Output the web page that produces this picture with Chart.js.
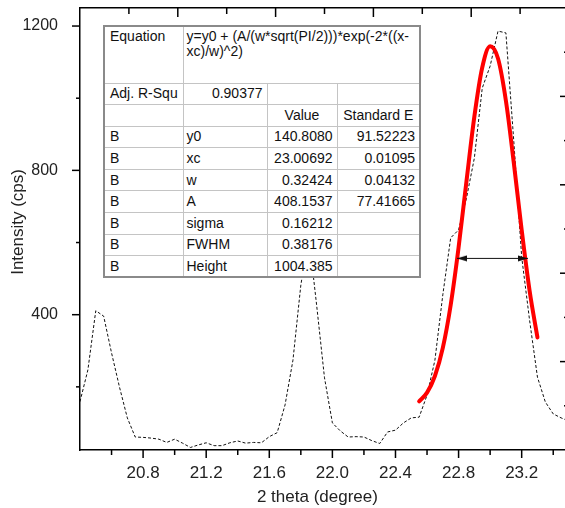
<!DOCTYPE html>
<html>
<head>
<meta charset="utf-8">
<script src="https://cdn.jsdelivr.net/npm/chart.js@4.4.1/dist/chart.umd.min.js"></script>
<style>
html,body{margin:0;padding:0;background:#fff;overflow:hidden;width:565px;height:508px;}
#wrap{position:absolute;left:0;top:0;width:575px;height:508px;}
#fit{position:absolute;left:103px;top:25px;width:316px;border-collapse:collapse;table-layout:fixed;background:#fff;
  font:14px "Liberation Sans",Arial,sans-serif;color:#111;border:2px solid #8a8a8a;z-index:2;}
#fit td{border:1px solid #c4c4c4;padding:0 4px;white-space:nowrap;overflow:hidden;vertical-align:middle;line-height:15px;}
#fit tr{height:21.6px;}
#fit tr.eq{height:57px;}
#fit tr.eq td{vertical-align:top;padding-top:2px;}
#fit td.num{text-align:right;}
#fit td.hd{text-align:center;}
#fit td.c1{padding-left:5px;}
#fit td.c2{padding-left:3px;}
</style>
</head>
<body>
<div id="wrap"><canvas id="c"></canvas></div>
<table id="fit"><colgroup><col style="width:79px"><col style="width:84px"><col style="width:70px"><col style="width:83px"></colgroup><tbody id="tb"></tbody></table>
<script>
// ---- data ----
const dashX = [20.40,20.45,20.50,20.55,20.60,20.65,20.70,20.75,20.80,20.85,20.90,20.95,21.00,21.05,21.10,21.15,
  21.20,21.25,21.30,21.35,21.40,21.45,21.50,21.55,21.60,21.65,21.70,21.75,21.80,21.85,21.90,21.95,
  22.00,22.05,22.10,22.15,22.20,22.25,22.30,22.35,22.40,22.45,22.50,22.55,22.60,22.65,22.70,22.75,
  22.80,22.85,22.90,22.95,23.00,23.05,23.10,23.15,23.20,23.25,23.30,23.35,23.40,23.45,23.50];
const dashY = [159,247,411,396,294,200,114,61,60,58,55,46,55,44,32,39,
  45,37,37,45,50,44,46,45,62,73,150,274,482,620,427,225,
  100,78,61,62,61,51,43,75,80,100,114,116,177,274,455,613,
  635,723,834,1028,1089,1186,1181,881,560,385,227,158,125,114,105];
const fitX = [22.55,22.60,22.65,22.70,22.75,22.80,22.85,22.90,22.95,23.00,23.05,23.10,23.15,23.20,23.25,23.30];
const fitY = [160,184,230,308,427,586,770,949,1085,1144,1110,993,821,635,467,337];
const fwhmX = [22.79, 23.24];
const fwhmY = [556, 556];
const xTickLabels = [20.8,21.2,21.6,22.0,22.4,22.8,23.2];
const xMinorTicks = [20.6,21.0,21.4,21.8,22.2,22.6,23.0,23.4];
const yTickLabels = [400,800,1200];
const yMinorTicks = [200,600,1000];
const topMajorTicks = [2,4,6,8];
const topMinorTicks = [1,3,5,7,9];
const rightMajorTicks = [1,2,3,4];
const rightMinorTicks = [0.5,1.5,2.5,3.5,4.5];

// fit report table text
const eqLabel = 'Equation';
const eqText = ['y=y0 + (A/(w*sqrt(PI/2)))*exp(-2*((x-', 'xc)/w)^2)'];
const adjRow = ['Adj. R-Squ', '0.90377'];
const headRow = ['', '', 'Value', 'Standard E'];
const paramRows = [
  ['B','y0','140.8080','91.52223'],
  ['B','xc','23.00692','0.01095'],
  ['B','w','0.32424','0.04132'],
  ['B','A','408.1537','77.41665'],
  ['B','sigma','0.16212',''],
  ['B','FWHM','0.38176',''],
  ['B','Height','1004.385','']
];

// ---- build table ----
const tb = document.getElementById('tb');
function td(text, cls, span){ const d=document.createElement('td'); if(cls) d.className=cls; if(span) d.colSpan=span; d.textContent=text; return d; }
{
  const tr=document.createElement('tr'); tr.className='eq';
  tr.appendChild(td(eqLabel,'c1'));
  const d=td('', 'c2', 3); d.appendChild(document.createTextNode(eqText[0])); d.appendChild(document.createElement('br')); d.appendChild(document.createTextNode(eqText[1]));
  tr.appendChild(d); tb.appendChild(tr);
}
{
  const tr=document.createElement('tr');
  tr.appendChild(td(adjRow[0],'c1')); tr.appendChild(td(adjRow[1],'num')); tr.appendChild(td('')); tr.appendChild(td(''));
  tb.appendChild(tr);
}
{
  const tr=document.createElement('tr');
  headRow.forEach((t,i)=>tr.appendChild(td(t, i>=2?'hd':(i===0?'c1':'c2'))));
  tb.appendChild(tr);
}
paramRows.forEach(r=>{
  const tr=document.createElement('tr');
  tr.appendChild(td(r[0],'c1')); tr.appendChild(td(r[1],'c2')); tr.appendChild(td(r[2],'num')); tr.appendChild(td(r[3],'num'));
  tb.appendChild(tr);
});

// ---- arrow head image ----
const head = document.createElement('canvas');
head.width = 22; head.height = 7;
{
  const g = head.getContext('2d');
  g.fillStyle = '#111';
  g.beginPath(); g.moveTo(1,0.5); g.lineTo(11,3.5); g.lineTo(1,6.5); g.closePath(); g.fill();
}

// ---- custom tick marks drawn through the scales ----
const tickPlugin = {
  id: 'ticks',
  afterDraw(chart){
    const ctx = chart.ctx, a = chart.chartArea;
    const sx = chart.scales.x, sy = chart.scales.y, sx2 = chart.scales.x2, sy2 = chart.scales.y2;
    ctx.save();
    ctx.strokeStyle = '#000'; ctx.lineWidth = 1.5;
    const line=(x1,y1,x2,y2)=>{ctx.beginPath();ctx.moveTo(x1,y1);ctx.lineTo(x2,y2);ctx.stroke();};
    xTickLabels.forEach(v=>{const p=sx.getPixelForValue(v); line(p,a.bottom,p,a.bottom+8);});
    xMinorTicks.forEach(v=>{const p=sx.getPixelForValue(v); line(p,a.bottom,p,a.bottom+5);});
    yTickLabels.forEach(v=>{const p=sy.getPixelForValue(v); line(a.left,p,a.left-8,p);});
    yMinorTicks.forEach(v=>{const p=sy.getPixelForValue(v); line(a.left,p,a.left-4,p);});
    topMajorTicks.forEach(v=>{const p=sx2.getPixelForValue(v); line(p,a.top,p,a.top+9);});
    topMinorTicks.forEach(v=>{const p=sx2.getPixelForValue(v); line(p,a.top,p,a.top+6);});
    rightMajorTicks.forEach(v=>{const p=sy2.getPixelForValue(v); line(a.right,p,a.right-9,p);});
    rightMinorTicks.forEach(v=>{const p=sy2.getPixelForValue(v); line(a.right,p,a.right-5,p);});
    ctx.restore();
  }
};

const FONT = '"Liberation Sans", Arial, sans-serif';
const fixSize = (prop, val) => (s) => { s[prop] = val; s.paddingTop = 0; s.paddingBottom = 0; s.paddingLeft = 0; s.paddingRight = 0; };

new Chart(document.getElementById('c'), {
  type: 'line',
  data: {
    datasets: [
      {
        label: 'FWHM',
        data: fwhmX.map((x,i)=>({x, y: fwhmY[i]})),
        borderColor: '#111', borderWidth: 1,
        pointStyle: head, pointRotation: [180, 0], pointRadius: 5,
        order: 0, tension: 0
      },
      {
        label: 'Gauss fit',
        data: fitX.map((x,i)=>({x, y: fitY[i]})),
        borderColor: '#ff0000', borderWidth: 4, borderCapStyle: 'round',
        pointRadius: 0, tension: 0.4, cubicInterpolationMode: 'monotone',
        order: 1
      },
      {
        label: 'Data',
        data: dashX.map((x,i)=>({x, y: dashY[i]})),
        borderColor: '#111', borderWidth: 1, borderDash: [3, 2],
        pointRadius: 0, tension: 0,
        order: 2
      }
    ]
  },
  options: {
    responsive: true, maintainAspectRatio: false, animation: false, events: [],
    layout: { padding: 0 },
    plugins: { legend: { display: false }, tooltip: { enabled: false } },
    scales: {
      x: {
        type: 'linear', position: 'bottom', min: 20.4, max: 23.5,
        afterBuildTicks: s => { s.ticks = xTickLabels.map(v => ({ value: v })); },
        afterFit: fixSize('height', 58),
        grid: { display: false },
        border: { display: true, color: '#000', width: 1.5 },
        ticks: { color: '#222', font: { family: FONT, size: 17 }, padding: 5, maxRotation: 0, autoSkip: false,
                 callback: v => Number(v).toFixed(1) },
        title: { display: true, text: '2 theta (degree)   ', color: '#222', font: { family: FONT, size: 17 }, padding: { top: 0, bottom: 0 } }
      },
      y: {
        type: 'linear', position: 'left', min: 25, max: 1250,
        afterBuildTicks: s => { s.ticks = yTickLabels.map(v => ({ value: v })); },
        afterFit: fixSize('width', 80),
        grid: { display: false },
        border: { display: true, color: '#000', width: 1.5 },
        ticks: { color: '#222', font: { family: FONT, size: 16 }, padding: 14, callback: v => String(v) },
        title: { display: true, text: '   Intensity (cps)', color: '#222', font: { family: FONT, size: 17 }, padding: { top: 8, bottom: 0 } }
      },
      x2: {
        type: 'linear', position: 'top', min: 0, max: 10,
        afterFit: fixSize('height', 8),
        grid: { display: false }, ticks: { display: false },
        border: { display: true, color: '#000', width: 1.5 }
      },
      y2: {
        type: 'linear', position: 'right', min: 0, max: 5,
        afterFit: fixSize('width', 6),
        grid: { display: false }, ticks: { display: false },
        border: { display: true, color: '#000', width: 1.5 }
      }
    }
  },
  plugins: [tickPlugin]
});
</script>
</body>
</html>
